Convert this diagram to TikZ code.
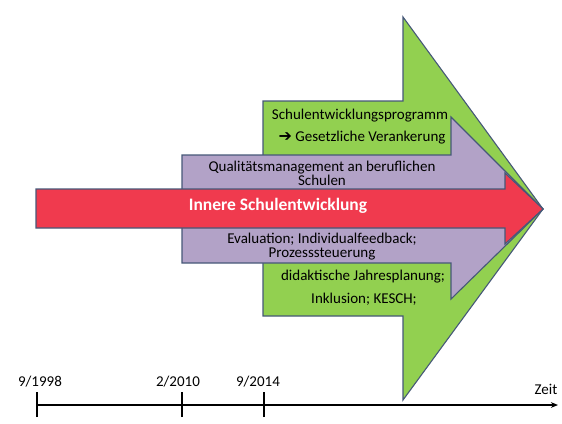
\documentclass[tikz,border=0pt]{standalone}
\usepackage{fontspec}
\setmainfont{Carlito}
\newfontfamily\symfont{DejaVu Sans}
\usetikzlibrary{arrows.meta}
\definecolor{phasegreen}{RGB}{146,208,80}
\definecolor{phaselilac}{RGB}{178,162,199}
\definecolor{phasered}{RGB}{240,58,78}
\definecolor{edgeblue}{RGB}{70,88,120}
\tikzset{
phase/.style={draw=edgeblue,line width=1.1pt,line join=miter},
label/.style={inner sep=0pt,align=center,font=\fontsize{15}{13.5}\selectfont},
mainlabel/.style={inner sep=0pt,font=\fontsize{17.5}{20}\selectfont\bfseries,text=white},
datelabel/.style={inner sep=0pt,font=\fontsize{15}{16}\selectfont},
tick/.style={line width=1.3pt},
timeline/.style={-{Stealth[length=2.5mm,width=2mm]},line width=1.3pt}
}

\begin{document}
\begin{tikzpicture}[x=1pt,y=-1pt]
\useasboundingbox (0,0) rectangle (562,423);

% the three phases
\fill[phasegreen,phase] (263,101)--(403,101)--(403,17)--(543,209)--(403,400)--(403,316)--(263,316)--cycle;
\fill[phaselilac,phase] (182,155)--(451,155)--(451,117)--(543,209)--(451,299)--(451,263)--(182,263)--cycle;
\fill[phasered,phase] (36,189)--(505,189)--(505,173)--(543,209)--(505,244)--(505,228)--(36,228)--cycle;

\node[label] (prog) at (360,116) {Schulentwicklungsprogramm};
\node[label] (gesetz) at (362,138) {{\symfont\bfseries\fontsize{16}{13}\selectfont ➔}\ Gesetzliche Verankerung};
\node[label] (qm) at (322,173.5) {Qualitätsmanagement an beruflichen\\Schulen};
\node[mainlabel] (innere) at (278,206) {Innere Schulentwicklung};
\node[label] (eval) at (322,246.5) {Evaluation; Individualfeedback;\\Prozesssteuerung};
\node[label] (jahr) at (363,277) {didaktische Jahresplanung;};
\node[label] (inkl) at (364,299) {Inklusion; KESCH;};

% time axis
\coordinate (t0) at (37,405);
\coordinate (t1) at (182,405);
\coordinate (t2) at (264,405);
\coordinate (tend) at (558,405);
\draw[timeline] (t0)--(tend);
\foreach \t in {t0,t1,t2}
  \draw[tick] ([yshift=-12pt]\t)--([yshift=13pt]\t);
\node[datelabel] (d0) at (40,382) {9/1998};
\node[datelabel] (d1) at (178,382) {2/2010};
\node[datelabel] (d2) at (258,382) {9/2014};
\node[datelabel] (zeit) at (546,389) {Zeit};
\end{tikzpicture}
\end{document}
